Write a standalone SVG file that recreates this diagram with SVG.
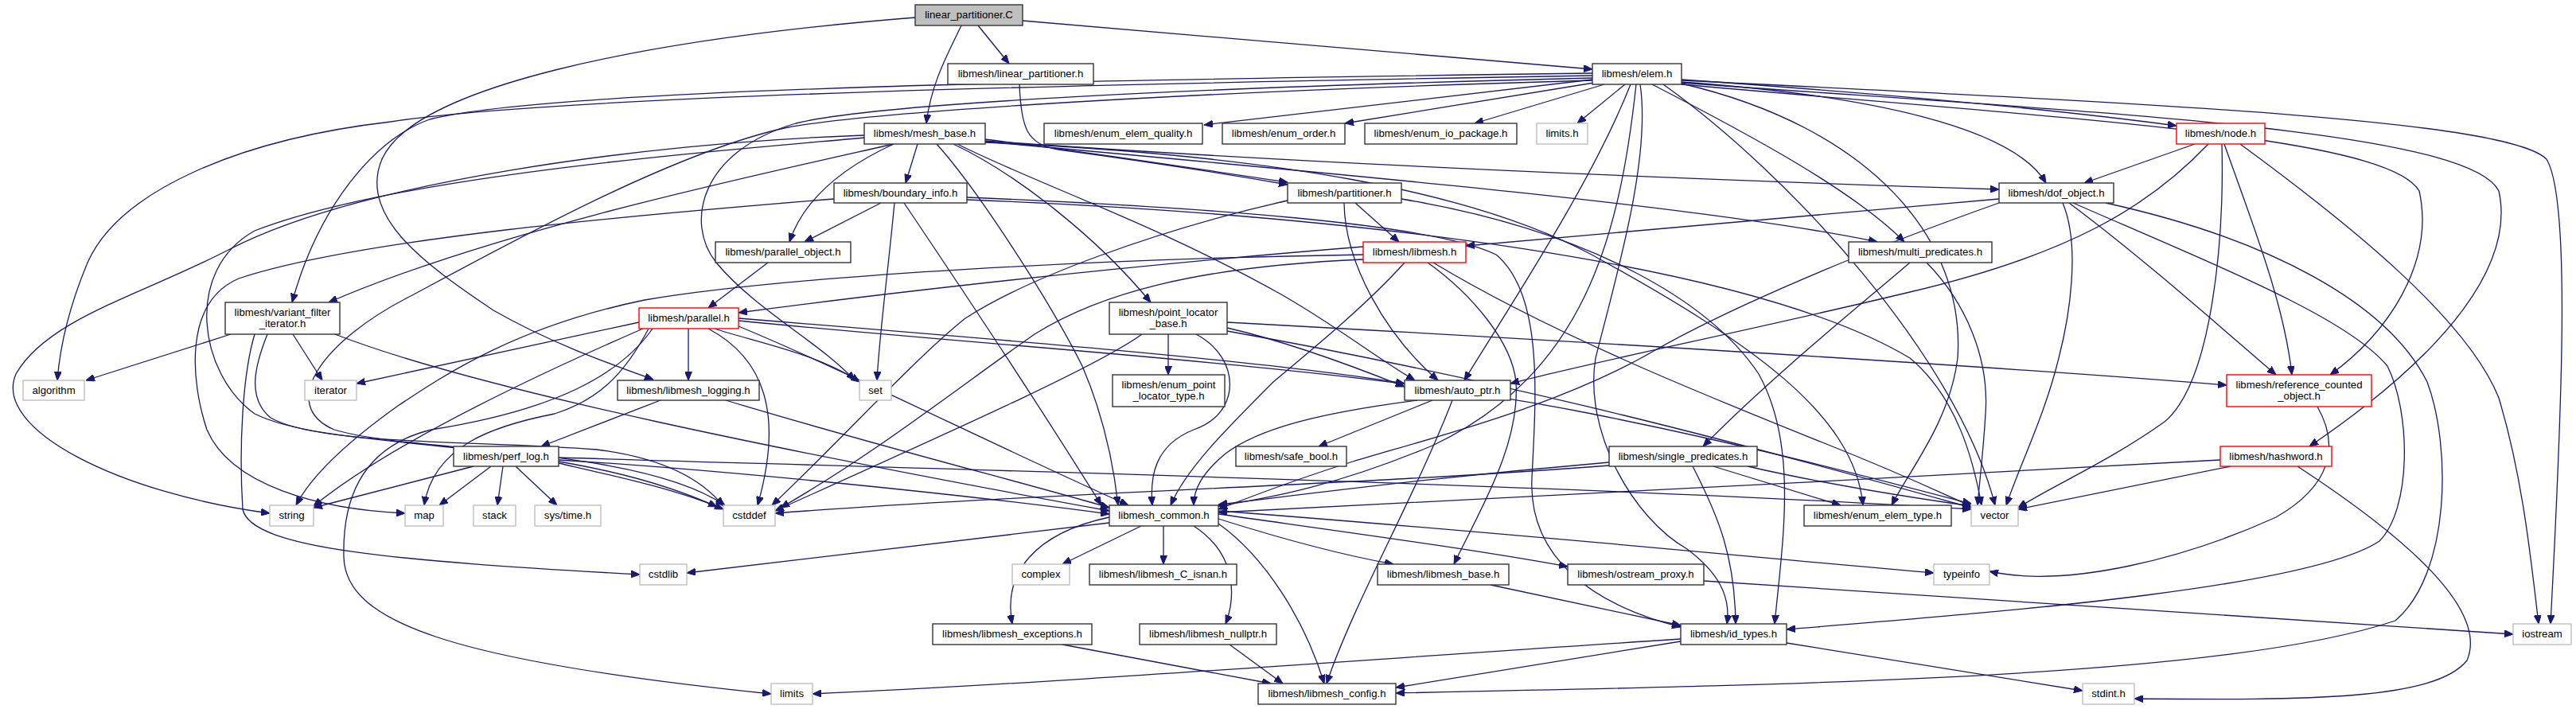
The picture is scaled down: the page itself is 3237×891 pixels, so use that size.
<svg xmlns="http://www.w3.org/2000/svg" width="3237" height="891" viewBox="0 0 3237 891">
<style>
.e{fill:none;stroke:#191970;stroke-width:1.3;marker-end:url(#ah)}
rect{fill:#fff;stroke-width:1.4}
.b{stroke:#333}
.r{stroke:#ff0000}
.g{stroke:#bfbfbf}
.root{fill:#bfbfbf;stroke:#333}
text{font-family:"Liberation Sans",Arial,sans-serif;font-size:13.2px;text-anchor:middle;fill:#000}
</style>
<defs>
<marker id="ah" markerWidth="11" markerHeight="9" refX="11" refY="4.5" orient="auto" markerUnits="userSpaceOnUse">
<path d="M0,0 L11,4.5 L0,9 z" fill="#191970" stroke="#191970" stroke-width="1"/>
</marker>
</defs>
<rect x="0" y="0" width="3237" height="891" style="fill:#fff;stroke:none"/>
<g id="edges">
<path class="e" d="M1208,32 C1190,70 1170,105 1164,155"/>
<path class="e" d="M1229,32 L1268,80"/>
<path class="e" d="M1285,26 L2001,87"/>
<path class="e" d="M1150,22 C800,50 520,110 480,200 C450,270 530,330 620,390 C690,430 760,455 821,477"/>
<path class="e" d="M1281,106 C1283,160 1290,182 1330,188 C1420,200 1520,215 1618,232"/>
<path class="e" d="M1238,175 C1400,195 1500,212 1618,229"/>
<path class="e" d="M1203,181 C1300,230 1450,280 1610,370 C1680,410 1730,450 1778,478"/>
<path class="e" d="M1153,181 L1138,230"/>
<path class="e" d="M1238,177 C1700,210 2200,228 2512,238"/>
<path class="e" d="M1238,179 C1600,195 1850,240 2000,320 C2200,430 2330,520 2341,635"/>
<path class="e" d="M1177,181 C1230,240 1320,380 1360,460 C1390,530 1400,590 1405,635"/>
<path class="e" d="M1238,178 C1700,220 2150,260 2359,304"/>
<path class="e" d="M1198,181 C1280,220 1380,300 1446,380"/>
<path class="e" d="M1123,181 C950,220 620,290 413,380"/>
<path class="e" d="M1123,181 C1060,210 1010,250 992,304"/>
<path class="e" d="M1086,173 C900,190 500,220 320,290 C230,340 250,470 320,520 C420,570 700,545 901,637"/>
<path class="e" d="M1086,170 C800,180 450,230 289,313 C180,370 60,400 20,470 C-10,540 150,620 339,645"/>
<path class="e" d="M2001,100 L1513,157"/>
<path class="e" d="M2003,104 L1690,155"/>
<path class="e" d="M2016,106 L1853,155"/>
<path class="e" d="M2042,106 L1982,155"/>
<path class="e" d="M2113,100 C2400,120 2600,140 2735,158"/>
<path class="e" d="M2113,103 C2350,120 2530,160 2571,230"/>
<path class="e" d="M2001,92 C1400,100 700,110 540,150 C470,175 400,260 367,380"/>
<path class="e" d="M2001,95 C1400,105 700,120 491,153 C300,175 150,240 110,330 C85,390 75,440 72,478"/>
<path class="e" d="M2001,98 C1500,110 1100,130 1000,155 C880,190 860,280 900,330 C950,390 1030,430 1074,478"/>
<path class="e" d="M2001,101 C1500,115 1100,140 990,160 C850,190 650,300 520,370 C400,430 350,510 420,540 C520,570 800,560 911,635"/>
<path class="e" d="M2049,106 C2000,230 1900,380 1840,478"/>
<path class="e" d="M2056,106 C2035,300 1990,470 1800,560 C1680,610 1600,625 1531,636"/>
<path class="e" d="M2061,106 C2075,200 2030,350 2005,450 C1990,540 2050,650 2120,690 C2160,720 2175,750 2170,784"/>
<path class="e" d="M2076,106 C2200,170 2330,240 2393,304"/>
<path class="e" d="M2113,104 C2600,140 3100,160 3140,240 C3160,330 3080,440 2902,561"/>
<path class="e" d="M2113,106 C2600,150 3000,170 3040,240 C3060,330 3000,420 2928,471"/>
<path class="e" d="M2113,101 C2700,130 3150,150 3200,200 C3230,250 3220,500 3205,784"/>
<path class="e" d="M2113,105 C2350,160 2470,300 2460,450 C2450,530 2400,590 2377,635"/>
<path class="e" d="M2090,106 C2250,220 2460,450 2507,635"/>
<path class="e" d="M2758,181 L2619,230"/>
<path class="e" d="M2775,181 C2700,260 2600,320 2400,367 C2200,415 2000,455 1898,482"/>
<path class="e" d="M2795,181 C2830,280 2870,380 2880,471"/>
<path class="e" d="M2792,181 C2795,300 2780,480 2720,530 C2650,580 2580,610 2536,638"/>
<path class="e" d="M2815,181 C2950,280 3100,400 3140,500 C3170,600 3180,700 3190,784"/>
<path class="e" d="M2512,250 L1842,309"/>
<path class="e" d="M2512,255 C2300,330 2150,400 2080,440 C1960,510 1800,550 1700,580 C1620,605 1570,625 1531,640"/>
<path class="e" d="M2592,255 C2615,310 2600,400 2587,450 C2570,520 2540,580 2521,635"/>
<path class="e" d="M2600,255 C2700,330 2800,420 2860,471"/>
<path class="e" d="M2605,255 C2800,340 2950,400 3000,460 C3030,520 3030,640 2990,680 C2900,740 2500,770 2245,791"/>
<path class="e" d="M2646,255 C2850,300 3000,380 3050,480 C3080,560 3080,720 3010,780 C2800,850 2300,860 1754,871"/>
<path class="e" d="M1703,255 L1758,304"/>
<path class="e" d="M1689,255 C1690,330 1740,420 1807,478"/>
<path class="e" d="M1761,250 C2000,290 2150,380 2210,470 C2260,560 2240,680 2230,784"/>
<path class="e" d="M1618,252 C1450,290 1290,350 1213,400 C1150,450 1050,560 970,635"/>
<path class="e" d="M965,330 L890,387"/>
<path class="e" d="M1713,310 C1400,335 1100,370 928,393"/>
<path class="e" d="M1713,320 C1400,325 1000,345 810,377 C650,410 560,470 500,510 C430,560 390,600 372,635"/>
<path class="e" d="M1713,326 C1500,335 1380,370 1300,420 C1200,490 1100,570 981,638"/>
<path class="e" d="M1765,330 C1720,380 1660,430 1600,480 C1540,540 1490,590 1471,635"/>
<path class="e" d="M1794,330 C1850,370 1900,430 1905,480 C1910,560 1860,640 1827,709"/>
<path class="e" d="M1801,330 C1950,420 2150,500 2300,560 C2400,600 2440,620 2477,636"/>
<path class="e" d="M2400,330 C2330,390 2230,470 2140,561"/>
<path class="e" d="M2421,330 C2470,380 2500,450 2495,520 C2492,570 2488,600 2485,635"/>
<path class="e" d="M290,420 L108,478"/>
<path class="e" d="M368,420 L405,478"/>
<path class="e" d="M320,420 C305,470 300,560 305,640 C315,690 500,705 804,722"/>
<path class="e" d="M336,420 C320,460 310,500 340,525 C400,560 600,553 750,565 C830,575 880,600 909,636"/>
<path class="e" d="M421,420 C600,490 1000,570 1394,642"/>
<path class="e" d="M803,405 L448,482"/>
<path class="e" d="M808,413 C700,460 500,550 394,636"/>
<path class="e" d="M865,413 L865,478"/>
<path class="e" d="M898,413 C950,430 1030,445 1080,480"/>
<path class="e" d="M890,413 C960,450 985,520 952,635"/>
<path class="e" d="M928,410 C1050,460 1250,560 1418,635"/>
<path class="e" d="M815,413 C790,460 760,500 697,520 C620,535 545,560 533,635"/>
<path class="e" d="M820,413 C780,470 700,515 542,540 C460,560 430,620 432,700 C434,780 560,830 969,872"/>
<path class="e" d="M928,403 C1300,440 1700,460 2000,520 C2200,560 2350,600 2477,633"/>
<path class="e" d="M928,400 C1300,430 1600,455 1765,482"/>
<path class="e" d="M1468,420 L1468,471"/>
<path class="e" d="M1542,412 C1620,430 1700,460 1765,486"/>
<path class="e" d="M1503,420 C1560,450 1560,520 1500,540 C1450,560 1445,600 1448,635"/>
<path class="e" d="M1435,420 C1380,460 1200,540 974,642"/>
<path class="e" d="M1542,405 C2000,430 2500,460 2798,484"/>
<path class="e" d="M1542,416 C1900,480 2200,560 2477,638"/>
<path class="e" d="M830,503 L680,561"/>
<path class="e" d="M912,503 C1100,560 1300,610 1394,638"/>
<path class="e" d="M1800,503 L1657,561"/>
<path class="e" d="M1781,503 C1650,520 1580,540 1540,570 C1510,595 1500,615 1500,635"/>
<path class="e" d="M1825,503 C1780,620 1700,760 1667,859"/>
<path class="e" d="M595,586 L394,638"/>
<path class="e" d="M617,586 L552,635"/>
<path class="e" d="M632,586 L625,635"/>
<path class="e" d="M648,586 L700,635"/>
<path class="e" d="M702,582 C780,600 850,615 909,640"/>
<path class="e" d="M702,578 C900,590 1200,620 1394,646"/>
<path class="e" d="M702,575 C1200,590 2000,610 2477,640"/>
<path class="e" d="M2153,586 L2313,635"/>
<path class="e" d="M2127,586 C2160,650 2180,700 2181,784"/>
<path class="e" d="M2022,581 C1800,600 1650,620 1531,634"/>
<path class="e" d="M2022,585 C1700,610 1300,620 974,645"/>
<path class="e" d="M2196,586 C2300,610 2400,625 2477,636"/>
<path class="e" d="M2790,578 C2400,600 1800,630 1531,644"/>
<path class="e" d="M2803,586 L2536,640"/>
<path class="e" d="M2887,586 C3000,660 3130,760 3100,830 C3060,880 2900,880 2682,878"/>
<path class="e" d="M2912,511 C2940,560 2930,610 2860,650 C2750,700 2600,740 2500,718"/>
<path class="e" d="M1531,658 C1590,700 1640,780 1664,859"/>
<path class="e" d="M1394,650 C1300,670 1260,720 1272,784"/>
<path class="e" d="M1500,661 C1560,700 1550,760 1540,784"/>
<path class="e" d="M1434,661 L1335,709"/>
<path class="e" d="M1462,661 L1462,709"/>
<path class="e" d="M1394,657 L863,720"/>
<path class="e" d="M1531,652 C1620,680 1700,700 1751,709"/>
<path class="e" d="M1531,646 C1700,670 1850,690 1970,712"/>
<path class="e" d="M1531,642 C1900,670 2200,700 2430,720"/>
<path class="e" d="M1335,810 L1597,859"/>
<path class="e" d="M1545,810 L1612,859"/>
<path class="e" d="M1873,735 L2112,786"/>
<path class="e" d="M2141,730 C2600,760 2900,780 3158,797"/>
<path class="e" d="M2112,806 L1754,864"/>
<path class="e" d="M2112,803 C1700,830 1300,860 1021,872"/>
<path class="e" d="M2245,808 L2617,868"/>
<path class="e" d="M1215,248 C1500,260 1800,280 1880,320 C1940,370 1930,500 1925,600 C1920,700 2000,760 2112,788"/>
<path class="e" d="M1136,255 C1200,350 1300,500 1384,635"/>
<path class="e" d="M1107,255 L1011,304"/>
<path class="e" d="M1048,250 C800,270 450,300 300,350 C230,380 240,480 260,540 C290,610 400,640 509,645"/>
<path class="e" d="M1124,255 C1115,350 1105,420 1102,478"/>
<path class="e" d="M1215,251 C1700,270 2200,330 2400,450 C2460,500 2480,580 2490,635"/>
</g>
<g id="n_lpc"><rect class="root" x="1150" y="6" width="135" height="26"/><text x="1217.5" y="23">linear_partitioner.C</text></g>
<g id="n_lph"><rect class="b" x="1191" y="80" width="183" height="26"/><text x="1282.5" y="97">libmesh/linear_partitioner.h</text></g>
<g id="n_elem"><rect class="b" x="2001" y="80" width="112" height="26"/><text x="2057" y="97">libmesh/elem.h</text></g>
<g id="n_mb"><rect class="b" x="1086" y="155" width="152" height="26"/><text x="1162" y="172">libmesh/mesh_base.h</text></g>
<g id="n_eeq"><rect class="b" x="1312" y="155" width="199" height="26"/><text x="1411.5" y="172">libmesh/enum_elem_quality.h</text></g>
<g id="n_eo"><rect class="b" x="1536" y="155" width="154" height="26"/><text x="1613" y="172">libmesh/enum_order.h</text></g>
<g id="n_eio"><rect class="b" x="1715" y="155" width="191" height="26"/><text x="1810.5" y="172">libmesh/enum_io_package.h</text></g>
<g id="n_limh"><rect class="g" x="1931" y="155" width="64" height="26"/><text x="1963" y="172">limits.h</text></g>
<g id="n_node"><rect class="r" x="2735" y="155" width="111" height="26"/><text x="2790.5" y="172">libmesh/node.h</text></g>
<g id="n_bi"><rect class="b" x="1048" y="230" width="167" height="25"/><text x="1131.5" y="247">libmesh/boundary_info.h</text></g>
<g id="n_part"><rect class="b" x="1618" y="230" width="143" height="25"/><text x="1689.5" y="247">libmesh/partitioner.h</text></g>
<g id="n_dof"><rect class="b" x="2512" y="230" width="144" height="25"/><text x="2584" y="247">libmesh/dof_object.h</text></g>
<g id="n_po"><rect class="b" x="899" y="304" width="170" height="26"/><text x="984" y="321">libmesh/parallel_object.h</text></g>
<g id="n_libm"><rect class="r" x="1713" y="304" width="129" height="26"/><text x="1777.5" y="321">libmesh/libmesh.h</text></g>
<g id="n_mp"><rect class="b" x="2323" y="304" width="180" height="26"/><text x="2413" y="321">libmesh/multi_predicates.h</text></g>
<g id="n_vfi"><rect class="b" x="283" y="380" width="144" height="40"/><text x="355" y="397">libmesh/variant_filter</text><text x="355" y="411">_iterator.h</text></g>
<g id="n_par"><rect class="r" x="803" y="387" width="125" height="26"/><text x="865.5" y="404">libmesh/parallel.h</text></g>
<g id="n_plb"><rect class="b" x="1394" y="380" width="148" height="40"/><text x="1468" y="397">libmesh/point_locator</text><text x="1468" y="411">_base.h</text></g>
<g id="n_alg"><rect class="g" x="29" y="478" width="77" height="25"/><text x="67.5" y="495">algorithm</text></g>
<g id="n_iter"><rect class="g" x="383" y="478" width="65" height="25"/><text x="415.5" y="495">iterator</text></g>
<g id="n_log"><rect class="b" x="776" y="478" width="178" height="25"/><text x="865" y="495">libmesh/libmesh_logging.h</text></g>
<g id="n_set"><rect class="g" x="1080" y="478" width="40" height="25"/><text x="1100" y="495">set</text></g>
<g id="n_eplt"><rect class="b" x="1398" y="471" width="141" height="40"/><text x="1468.5" y="488">libmesh/enum_point</text><text x="1468.5" y="502">_locator_type.h</text></g>
<g id="n_auto"><rect class="b" x="1765" y="478" width="133" height="25"/><text x="1831.5" y="495">libmesh/auto_ptr.h</text></g>
<g id="n_rco"><rect class="r" x="2798" y="471" width="182" height="40"/><text x="2889" y="488">libmesh/reference_counted</text><text x="2889" y="502">_object.h</text></g>
<g id="n_perf"><rect class="b" x="570" y="561" width="132" height="25"/><text x="636" y="578">libmesh/perf_log.h</text></g>
<g id="n_safe"><rect class="b" x="1553" y="561" width="139" height="25"/><text x="1622.5" y="578">libmesh/safe_bool.h</text></g>
<g id="n_sp"><rect class="b" x="2022" y="561" width="186" height="25"/><text x="2115" y="578">libmesh/single_predicates.h</text></g>
<g id="n_hash"><rect class="r" x="2790" y="561" width="140" height="25"/><text x="2860" y="578">libmesh/hashword.h</text></g>
<g id="n_str"><rect class="g" x="339" y="635" width="55" height="26"/><text x="366.5" y="652">string</text></g>
<g id="n_map"><rect class="g" x="509" y="635" width="48" height="26"/><text x="533" y="652">map</text></g>
<g id="n_stack"><rect class="g" x="595" y="635" width="53" height="26"/><text x="621.5" y="652">stack</text></g>
<g id="n_time"><rect class="g" x="672" y="635" width="83" height="26"/><text x="713.5" y="652">sys/time.h</text></g>
<g id="n_cstddef"><rect class="g" x="909" y="635" width="65" height="26"/><text x="941.5" y="652">cstddef</text></g>
<g id="n_common"><rect class="b" x="1394" y="635" width="137" height="26"/><text x="1462.5" y="652">libmesh_common.h</text></g>
<g id="n_eet"><rect class="b" x="2267" y="635" width="185" height="26"/><text x="2359.5" y="652">libmesh/enum_elem_type.h</text></g>
<g id="n_vec"><rect class="g" x="2477" y="635" width="59" height="26"/><text x="2506.5" y="652">vector</text></g>
<g id="n_cstdlib"><rect class="g" x="804" y="709" width="59" height="26"/><text x="833.5" y="726">cstdlib</text></g>
<g id="n_complex"><rect class="g" x="1272" y="709" width="72" height="26"/><text x="1308" y="726">complex</text></g>
<g id="n_isnan"><rect class="b" x="1369" y="709" width="185" height="26"/><text x="1461.5" y="726">libmesh/libmesh_C_isnan.h</text></g>
<g id="n_lbase"><rect class="b" x="1731" y="709" width="165" height="26"/><text x="1813.5" y="726">libmesh/libmesh_base.h</text></g>
<g id="n_osp"><rect class="b" x="1970" y="709" width="171" height="26"/><text x="2055.5" y="726">libmesh/ostream_proxy.h</text></g>
<g id="n_typeinfo"><rect class="g" x="2430" y="709" width="70" height="26"/><text x="2465" y="726">typeinfo</text></g>
<g id="n_exc"><rect class="b" x="1172" y="784" width="200" height="26"/><text x="1272" y="801">libmesh/libmesh_exceptions.h</text></g>
<g id="n_nullptr"><rect class="b" x="1432" y="784" width="172" height="26"/><text x="1518" y="801">libmesh/libmesh_nullptr.h</text></g>
<g id="n_idt"><rect class="b" x="2112" y="784" width="133" height="26"/><text x="2178.5" y="801">libmesh/id_types.h</text></g>
<g id="n_iostream"><rect class="g" x="3158" y="784" width="73" height="26"/><text x="3194.5" y="801">iostream</text></g>
<g id="n_limits"><rect class="g" x="969" y="859" width="52" height="26"/><text x="995" y="876">limits</text></g>
<g id="n_config"><rect class="b" x="1581" y="859" width="173" height="26"/><text x="1667.5" y="876">libmesh/libmesh_config.h</text></g>
<g id="n_stdint"><rect class="g" x="2617" y="859" width="65" height="26"/><text x="2649.5" y="876">stdint.h</text></g>
</svg>
